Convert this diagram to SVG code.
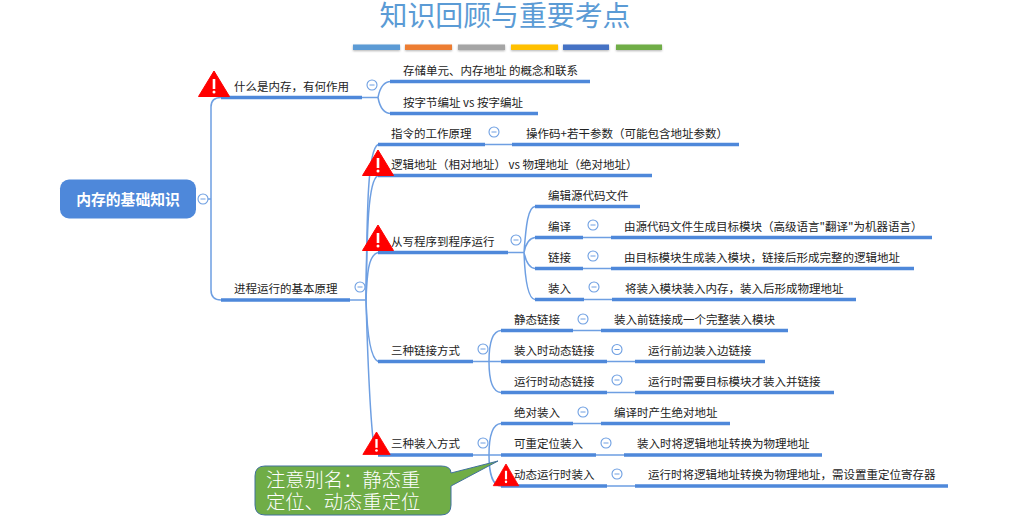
<svg xmlns="http://www.w3.org/2000/svg" width="1029" height="517" viewBox="0 0 1029 517">
<style>
text{font-family:"Noto Sans CJK SC","Liberation Sans",sans-serif}
.t{font-size:11.5px;fill:#222}
.title{font-size:27.9px;fill:#5B9BD5;font-weight:400}
.thick{fill:none;stroke:#4E88DA;stroke-width:3.3}
.thin{fill:none;stroke:#6E9FE2;stroke-width:1.5}
.c{fill:#fff;stroke:#6E9FE2;stroke-width:1.1}
.m{stroke:#6E9FE2;stroke-width:1}
.w{fill:#f00}
.bar{filter:url(#sh)}
</style>
<defs>
<filter id="sh" x="-10%" y="-50%" width="120%" height="220%"><feDropShadow dx="0" dy="1" stdDeviation="1" flood-color="#000" flood-opacity="0.3"/></filter>
<g id="col"><circle class="c" r="5"/><line class="m" x1="-2.5" x2="2.5"/></g>
<g id="warn"><path class="w" d="M0,0L15.5,25.5H-15.5Z" stroke="#f00" stroke-width="1" stroke-linejoin="round"/><rect x="-1.3" y="8" width="2.6" height="10" fill="#fff"/><circle cy="21" r="1.5" fill="#fff"/></g>
</defs>
<g id="title">
<text class="title" x="505" y="26" text-anchor="middle">知识回顾与重要考点</text>
<g class="bar">
<rect x="353" y="44.5" width="47" height="5.5" fill="#5B9BD5"/>
<rect x="405" y="44.5" width="47" height="5.5" fill="#ED7D31"/>
<rect x="458" y="44.5" width="47" height="5.5" fill="#A5A5A5"/>
<rect x="511" y="44.5" width="47" height="5.5" fill="#FFC000"/>
<rect x="563" y="44.5" width="46" height="5.5" fill="#4472C4"/>
<rect x="616" y="44.5" width="46" height="5.5" fill="#70AD47"/>
</g>
</g>
<g id="connectors">
<path class="thin" d="M203,199H211M211,107Q211,97.5 221,97.5M211,107V290Q211,300 221,300"/>
<path class="thin" d="M362,97.5H378M378,97.5Q381,81.5 391,81.5M378,97.5Q381,113.5 391,113.5"/>
<path class="thin" d="M350,300H366"/>
<path class="thin" d="M366,300C367,220 367,150 378,144.5"/>
<path class="thin" d="M366,300C367,230 368,180 378,175.5"/>
<path class="thin" d="M366,300C367,275 368,255 378,252.5"/>
<path class="thin" d="M366,300C367,330 370,358 378,361.5"/>
<path class="thin" d="M366,300C368,370 371,430 375,455"/>
<path class="thin" d="M485,144.5H512M508,252.5H524M524,252.5C526,225 528,207 535,206.5M524,252.5C526,243 529,238 535,237.5M524,252.5C526,262 529,268 535,268.5M524,252.5C525,280 528,299 535,299.5"/>
<path class="thin" d="M583,237.5H611M583,268.5H611M584,299.5H612"/>
<path class="thin" d="M473,361.5H489M489,361.5C489,345 492,331 501,330.5M489,361.5H501M489,361.5C489,378 492,392 501,392.5"/>
<path class="thin" d="M573,330.5H601M607,361.5H635M607,392.5H635"/>
<path class="thin" d="M473,455H489M489,455C489,438 492,424 501,423.5M489,455H501M489,455C489,471 492,486 501,486"/>
<path class="thin" d="M573,423.5H601M596,455H624M607,486H635"/>
<g class="thick">
<path d="M221,97.5H362M390,81.5H590M390,113.5H538M221,300H350"/>
<path d="M378,144.5H485M512,144.5H739M378,175.5H652M378,252.5H508"/>
<path d="M535,206.5H640M535,237.5H583M611,237.5H932M535,268.5H583M611,268.5H914M535,299.5H584M612,299.5H856"/>
<path d="M378,361.5H473M501,330.5H573M601,330.5H788M501,361.5H607M635,361.5H765M501,392.5H607M635,392.5H834"/>
<path d="M378,455H473M501,423.5H573M601,423.5H730M501,455H596M624,455H822M501,486H607M635,486H948"/>
</g>
</g>
<g id="root"><rect x="60" y="179.5" width="136" height="39" rx="9" fill="#4E88DA"/><text x="128" y="205" text-anchor="middle" font-size="14.8" font-weight="700" fill="#fff">内存的基础知识</text><use href="#col" x="203" y="199"/></g>
<g id="n1"><text class="t" x="234" y="90.5">什么是内存，有何作用</text><use href="#col" x="372" y="85"/><use href="#warn" x="214" y="71"/></g>
<g id="n1a"><text class="t" x="403" y="75">存储单元、内存地址 的概念和联系</text></g>
<g id="n1b"><text class="t" x="403" y="107">按字节编址 vs 按字编址</text></g>
<g id="n2"><text class="t" x="234" y="293">进程运行的基本原理</text><use href="#col" x="360" y="287"/></g>
<g id="n3"><text class="t" x="391" y="138">指令的工作原理</text><use href="#col" x="494" y="132"/></g>
<g id="n3a"><text class="t" x="526" y="138">操作码+若干参数（可能包含地址参数）</text></g>
<g id="n4"><text class="t" x="391" y="169">逻辑地址（相对地址） vs 物理地址（绝对地址）</text><use href="#warn" x="378" y="150"/></g>
<g id="n5"><text class="t" x="391" y="246">从写程序到程序运行</text><use href="#col" x="516" y="240"/><use href="#warn" x="378" y="225"/></g>
<g id="n5a"><text class="t" x="548" y="200">编辑源代码文件</text></g>
<g id="n5b"><text class="t" x="548" y="231">编译</text><use href="#col" x="593" y="225"/></g>
<g id="n5b1"><text class="t" x="624" y="231">由源代码文件生成目标模块（高级语言"翻译"为机器语言）</text></g>
<g id="n5c"><text class="t" x="548" y="262">链接</text><use href="#col" x="593" y="256"/></g>
<g id="n5c1"><text class="t" x="624" y="262">由目标模块生成装入模块，链接后形成完整的逻辑地址</text></g>
<g id="n5d"><text class="t" x="548" y="293">装入</text><use href="#col" x="594" y="287"/></g>
<g id="n5d1"><text class="t" x="625" y="293">将装入模块装入内存，装入后形成物理地址</text></g>
<g id="n6"><text class="t" x="391" y="355">三种链接方式</text><use href="#col" x="483" y="349"/></g>
<g id="n6a"><text class="t" x="514" y="324">静态链接</text><use href="#col" x="583" y="319"/></g>
<g id="n6a1"><text class="t" x="614" y="324">装入前链接成一个完整装入模块</text></g>
<g id="n6b"><text class="t" x="514" y="355">装入时动态链接</text><use href="#col" x="617" y="349.5"/></g>
<g id="n6b1"><text class="t" x="648" y="355">运行前边装入边链接</text></g>
<g id="n6c"><text class="t" x="514" y="386">运行时动态链接</text><use href="#col" x="617" y="380"/></g>
<g id="n6c1"><text class="t" x="648" y="386">运行时需要目标模块才装入并链接</text></g>
<g id="n7"><text class="t" x="391" y="448">三种装入方式</text><use href="#col" x="483" y="443"/><use href="#warn" transform="translate(376.5,432) scale(0.88,0.88)"/></g>
<g id="n7a"><text class="t" x="514" y="417">绝对装入</text><use href="#col" x="583" y="412"/></g>
<g id="n7a1"><text class="t" x="614" y="417">编译时产生绝对地址</text></g>
<g id="n7b"><text class="t" x="514" y="448">可重定位装入</text><use href="#col" x="606" y="443"/></g>
<g id="n7b1"><text class="t" x="637" y="448">装入时将逻辑地址转换为物理地址</text></g>
<g id="n7c"><text class="t" x="514" y="479">动态运行时装入</text><use href="#col" x="617" y="474"/><use href="#warn" transform="translate(506,464) scale(0.82,0.85)"/></g>
<g id="n7c1"><text class="t" x="648" y="479">运行时将逻辑地址转换为物理地址，需设置重定位寄存器</text></g>
<g id="note">
<path d="M265,466H441Q451,466 451,473L498,461L451,486V505Q451,515 441,515H265Q255,515 255,505V476Q255,466 265,466Z" fill="#70AD47" stroke="#41719C" stroke-width="1"/>
<text font-size="19.3" fill="#fff" font-weight="300"><tspan x="266" y="487">注意别名：静态重</tspan><tspan x="266" y="509">定位、动态重定位</tspan></text>
</g>
</svg>
